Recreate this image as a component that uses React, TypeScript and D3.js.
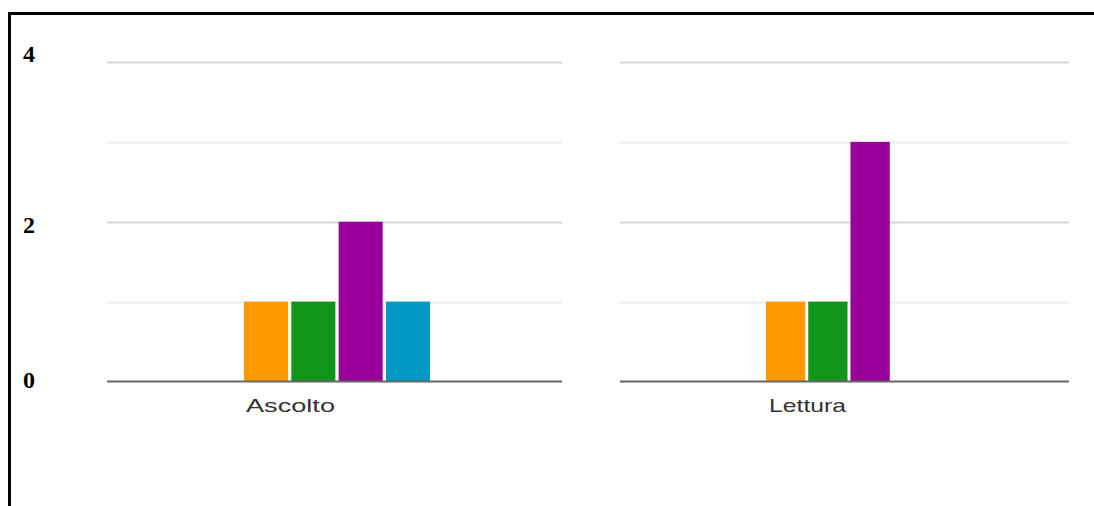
import React from "react";
import * as d3 from "d3";

const categories = ["Ascolto", "Lettura"];
const seriesNames = ["Serie 1", "Serie 2", "Serie 3", "Serie 4"];
const seriesColors = ["#ff9900", "#109618", "#990099", "#0099c6"];
const serie1 = [1, 1];
const serie2 = [1, 1];
const serie3 = [2, 3];
const serie4 = [1, 0];
const seriesValues = [serie1, serie2, serie3, serie4];
const gridTicks = [0, 1, 2, 3, 4];
const axisLabels = [4, 2, 0];

const W = 1094;
const H = 506;

// panel layout
const panels = [
  { x0: 107, x1: 562, g0: 244, g1: 430, lx: 246, lw: 89 },
  { x0: 620, x1: 1069, g0: 766, g1: 932, lx: 769, lw: 77 },
];

const y = d3.scaleLinear().domain([0, 4]).range([381.5, 62]);
const labelBaselines: Record<number, number> = { 4: 62, 2: 233, 0: 388 };

export default function App() {
  return (
    <svg
      width={W}
      height={H}
      style={{ position: "absolute", left: 0, top: 0, display: "block", background: "#fff" }}
    >
      {/* frame */}
      <line x1={8} y1={13.5} x2={W} y2={13.5} stroke="#000" strokeWidth={3} />
      <line x1={9.5} y1={12} x2={9.5} y2={H} stroke="#000" strokeWidth={3} />

      {axisLabels.map((v) => (
        <text
          key={v}
          x={23}
          y={labelBaselines[v]}
          fontFamily="'Liberation Serif', 'DejaVu Serif', serif"
          fontWeight="bold"
          fontSize={24}
          fill="#000"
        >
          {v}
        </text>
      ))}

      {categories.map((cat, ci) => {
        const p = panels[ci];
        const xb = d3
          .scaleBand<string>()
          .domain(seriesNames)
          .range([p.g0, p.g1])
          .paddingInner(0.07);
        return (
          <g key={cat}>
            {gridTicks
              .filter((t) => t !== 0)
              .map((t) => (
                <line
                  key={t}
                  x1={p.x0}
                  x2={p.x1}
                  y1={Math.round(y(t)) + 0.5}
                  y2={Math.round(y(t)) + 0.5}
                  stroke={t % 2 === 0 ? "#d6d6d6" : "#ececec"}
                  strokeWidth={2}
                />
              ))}
            {seriesNames.map((s, si) => {
              const v = seriesValues[si][ci];
              if (!v) return null;
              return (
                <rect
                  key={s}
                  x={xb(s)}
                  y={y(v)}
                  width={xb.bandwidth()}
                  height={y(0) - y(v)}
                  fill={seriesColors[si]}
                />
              );
            })}
            <line
              x1={p.x0}
              x2={p.x1}
              y1={y(0)}
              y2={y(0)}
              stroke="#666"
              strokeWidth={2}
            />
            <text
              x={p.lx}
              y={412}
              fontFamily="'Liberation Sans', Arial, sans-serif"
              fontSize={19}
              fill="#333"
              textLength={p.lw}
              lengthAdjust="spacingAndGlyphs"
            >
              {cat}
            </text>
          </g>
        );
      })}
    </svg>
  );
}
